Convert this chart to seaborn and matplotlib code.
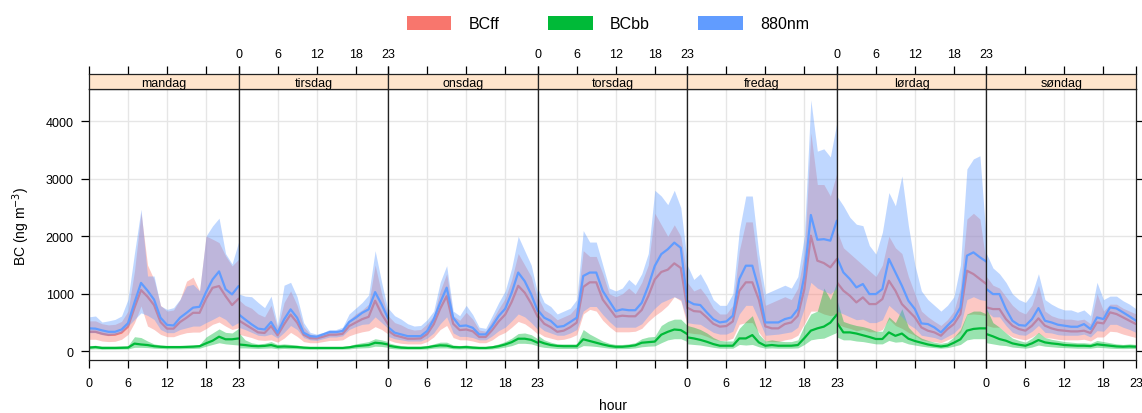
import numpy as np
import pandas as pd
import seaborn as sns
import matplotlib
matplotlib.use("Agg")
import matplotlib.pyplot as plt
from matplotlib.patches import Patch

DAYS = ["mandag", "tirsdag", "onsdag", "torsdag", "fredag", "lørdag", "søndag"]
HOURS = list(range(24))
SPECIES = ["BCff", "BCbb", "880nm"]
COLOURS = ["#F8766D", "#00BA38", "#619CFF"]

# mean per day (rows) and hour (cols), ng m-3
BCFF_MEAN = [
    [340, 340, 307, 285, 290, 325, 430, 760, 1065, 950, 805, 510, 395, 395, 510, 585, 670, 670, 915, 1105, 1135, 960, 805, 915],
    [540, 470, 400, 330, 320, 440, 280, 470, 640, 500, 290, 230, 225, 255, 290, 290, 305, 440, 500, 560, 600, 880, 650, 470],
    [360, 280, 250, 220, 220, 225, 300, 470, 740, 960, 480, 370, 380, 350, 250, 250, 370, 520, 640, 860, 1140, 1020, 830, 600],
    [620, 480, 420, 340, 360, 420, 500, 1120, 1200, 1200, 900, 750, 600, 620, 610, 610, 720, 960, 1250, 1380, 1420, 1530, 1450, 750],
    [760, 700, 690, 590, 480, 430, 440, 520, 1050, 1200, 1200, 900, 434, 400, 400, 475, 503, 620, 1083, 2010, 1576, 1535, 1460, 1605],
    [1200, 1055, 967, 851, 938, 822, 822, 909, 1228, 1055, 822, 707, 591, 416, 359, 330, 272, 388, 474, 649, 1402, 1344, 1257, 1170],
    [764, 735, 735, 561, 446, 388, 359, 446, 574, 446, 400, 370, 359, 347, 347, 359, 319, 503, 486, 678, 649, 591, 532, 474],
]
BCFF_LO = [
    [210, 210, 180, 170, 175, 210, 295, 500, 790, 440, 380, 295, 255, 255, 295, 325, 335, 335, 395, 470, 510, 440, 380, 410],
    [300, 270, 240, 200, 190, 200, 160, 230, 330, 260, 170, 150, 150, 170, 190, 190, 200, 270, 310, 340, 360, 430, 380, 300],
    [200, 160, 140, 130, 130, 130, 170, 250, 380, 450, 240, 200, 200, 180, 150, 150, 200, 280, 330, 420, 520, 480, 400, 300],
    [330, 260, 230, 200, 210, 240, 290, 650, 730, 700, 540, 430, 340, 340, 340, 350, 400, 520, 620, 700, 800, 950, 880, 450],
    [330, 310, 300, 260, 210, 190, 190, 230, 470, 500, 500, 330, 180, 170, 170, 200, 220, 280, 480, 700, 700, 650, 620, 650],
    [480, 430, 400, 360, 380, 340, 340, 380, 560, 450, 400, 330, 280, 200, 180, 170, 150, 200, 250, 330, 640, 650, 640, 620],
    [450, 420, 420, 320, 250, 220, 200, 250, 320, 240, 230, 210, 200, 200, 200, 210, 180, 250, 250, 350, 340, 300, 270, 240],
]
BCFF_HI = [
    [530, 530, 480, 460, 470, 520, 700, 1400, 2410, 1500, 1250, 800, 700, 720, 900, 1220, 1290, 1050, 2005, 1950, 1890, 1660, 1485, 1600],
    [900, 800, 750, 650, 600, 800, 400, 850, 1050, 800, 430, 300, 280, 300, 340, 340, 370, 550, 650, 720, 820, 1500, 1000, 620],
    [620, 500, 460, 400, 370, 380, 480, 620, 1050, 1350, 620, 540, 680, 560, 370, 350, 540, 740, 920, 1250, 1700, 1500, 1300, 880],
    [950, 720, 650, 550, 600, 650, 780, 1750, 1650, 1650, 1350, 1000, 950, 1000, 1100, 1000, 1200, 1500, 2400, 2200, 2000, 2200, 2000, 1300],
    [1200, 1050, 1100, 950, 750, 650, 650, 800, 1750, 2250, 2250, 1400, 800, 850, 900, 950, 900, 1100, 1700, 3800, 2900, 2900, 2700, 3100],
    [2100, 1800, 1700, 1600, 1500, 1400, 1300, 1500, 2000, 1800, 1700, 1300, 1000, 700, 600, 520, 450, 550, 700, 1100, 2300, 2400, 2300, 1500],
    [1300, 1150, 1100, 950, 800, 700, 650, 800, 1150, 700, 620, 580, 560, 560, 540, 560, 480, 1000, 700, 820, 820, 750, 700, 650],
]

BCBB_MEAN = [
    [65, 75, 58, 60, 60, 62, 65, 135, 120, 110, 90, 80, 75, 75, 75, 78, 82, 90, 140, 185, 255, 210, 210, 225],
    [120, 110, 95, 90, 95, 110, 80, 85, 80, 75, 65, 60, 60, 60, 60, 60, 60, 70, 90, 100, 110, 150, 140, 120],
    [100, 80, 65, 60, 60, 60, 70, 90, 105, 100, 75, 70, 75, 65, 60, 60, 70, 90, 120, 160, 220, 220, 200, 150],
    [180, 140, 110, 95, 90, 90, 90, 210, 180, 150, 120, 95, 80, 80, 90, 105, 150, 160, 170, 290, 340, 380, 370, 300],
    [243, 225, 200, 167, 127, 98, 98, 98, 225, 225, 283, 156, 98, 110, 98, 98, 98, 110, 230, 360, 400, 430, 500, 640],
    [500, 330, 330, 310, 280, 250, 215, 215, 330, 270, 310, 220, 180, 150, 120, 100, 85, 100, 150, 210, 360, 390, 400, 400],
    [301, 261, 214, 185, 139, 116, 98, 139, 197, 156, 139, 127, 110, 104, 98, 98, 92, 122, 110, 98, 86, 81, 86, 81],
]
BCBB_LO = [
    [40, 45, 40, 38, 38, 40, 42, 70, 70, 65, 55, 50, 45, 45, 45, 48, 50, 55, 90, 120, 150, 130, 120, 110],
    [60, 60, 55, 50, 55, 60, 45, 50, 45, 45, 40, 38, 38, 38, 38, 38, 38, 42, 55, 60, 65, 90, 85, 70],
    [55, 45, 40, 38, 38, 38, 42, 55, 60, 60, 45, 42, 45, 40, 38, 38, 42, 55, 75, 100, 140, 140, 130, 95],
    [90, 70, 60, 50, 50, 50, 50, 100, 95, 85, 70, 55, 48, 48, 50, 60, 80, 90, 95, 150, 200, 220, 220, 170],
    [130, 120, 110, 90, 70, 55, 55, 55, 120, 110, 120, 80, 55, 60, 55, 55, 55, 60, 120, 200, 220, 230, 280, 330],
    [250, 200, 200, 180, 170, 150, 130, 130, 190, 160, 170, 130, 110, 90, 75, 65, 55, 65, 90, 120, 200, 220, 220, 220],
    [150, 130, 110, 100, 75, 65, 55, 75, 110, 90, 80, 70, 65, 60, 55, 55, 55, 70, 65, 55, 50, 48, 50, 48],
]
BCBB_HI = [
    [100, 105, 95, 90, 90, 95, 100, 255, 240, 180, 130, 110, 100, 100, 100, 105, 110, 120, 250, 320, 390, 330, 320, 400],
    [330, 200, 150, 130, 140, 170, 120, 130, 120, 110, 90, 85, 85, 85, 85, 85, 85, 100, 130, 150, 170, 220, 200, 170],
    [150, 120, 100, 90, 90, 90, 100, 130, 160, 160, 110, 100, 110, 95, 85, 85, 100, 130, 170, 230, 310, 320, 290, 220],
    [280, 200, 160, 130, 130, 130, 130, 380, 300, 240, 180, 140, 120, 120, 130, 150, 220, 250, 260, 450, 520, 560, 560, 450],
    [450, 420, 380, 320, 240, 190, 180, 180, 400, 520, 620, 300, 180, 200, 180, 170, 170, 200, 450, 650, 700, 1100, 900, 1200],
    [900, 520, 480, 450, 430, 400, 350, 350, 600, 500, 740, 420, 300, 230, 190, 160, 140, 160, 250, 380, 650, 700, 700, 650],
    [750, 500, 420, 320, 230, 190, 160, 230, 330, 240, 210, 190, 170, 160, 150, 150, 140, 190, 170, 150, 130, 120, 130, 120],
]

NM880_MEAN = [
    [400, 395, 365, 340, 340, 380, 490, 850, 1190, 1055, 900, 585, 460, 450, 585, 670, 760, 775, 1030, 1250, 1390, 1080, 990, 1135],
    [645, 555, 470, 395, 380, 510, 325, 555, 730, 585, 325, 265, 255, 295, 335, 335, 355, 510, 585, 670, 730, 1030, 815, 570],
    [420, 325, 295, 265, 265, 265, 355, 555, 845, 1107, 585, 440, 450, 410, 295, 295, 440, 615, 740, 1020, 1370, 1220, 990, 700],
    [720, 585, 530, 425, 440, 510, 585, 1310, 1370, 1370, 1050, 875, 700, 730, 715, 715, 845, 1135, 1485, 1690, 1775, 1890, 1800, 875],
    [880, 820, 805, 677, 561, 503, 520, 619, 1257, 1489, 1489, 1083, 503, 503, 503, 561, 590, 735, 1315, 2370, 1940, 1950, 1924, 2272],
    [1635, 1373, 1257, 1112, 1170, 996, 996, 1083, 1605, 1373, 1141, 880, 735, 486, 474, 416, 330, 446, 561, 764, 1663, 1721, 1635, 1559],
    [1083, 996, 996, 735, 532, 457, 446, 561, 752, 532, 503, 463, 446, 428, 428, 474, 388, 590, 561, 764, 746, 678, 608, 532],
]
NM880_LO = [
    [325, 325, 290, 280, 295, 335, 440, 555, 670, 625, 555, 380, 325, 325, 380, 410, 440, 440, 500, 555, 615, 555, 440, 500],
    [420, 380, 330, 280, 270, 300, 230, 330, 450, 380, 240, 200, 190, 220, 250, 250, 270, 380, 430, 470, 480, 600, 500, 400],
    [260, 220, 200, 180, 180, 180, 230, 320, 480, 600, 320, 260, 260, 240, 200, 200, 270, 360, 420, 530, 650, 600, 500, 380],
    [450, 360, 320, 280, 280, 320, 380, 700, 780, 780, 640, 520, 420, 420, 420, 420, 480, 620, 750, 850, 900, 950, 900, 520],
    [500, 480, 470, 400, 330, 300, 300, 350, 650, 800, 800, 550, 280, 290, 300, 320, 340, 420, 750, 1200, 1100, 1050, 1000, 1100],
    [700, 650, 600, 550, 560, 500, 500, 550, 800, 700, 600, 470, 400, 280, 260, 240, 200, 260, 320, 430, 900, 950, 900, 880],
    [700, 600, 600, 450, 330, 290, 280, 350, 450, 330, 320, 290, 280, 280, 280, 300, 250, 360, 350, 470, 470, 420, 380, 330],
]
NM880_HI = [
    [600, 615, 510, 530, 555, 615, 905, 1715, 2470, 1310, 1310, 790, 730, 760, 905, 1135, 1165, 1050, 2005, 2180, 2315, 1700, 1520, 1900],
    [1000, 960, 950, 850, 760, 960, 450, 1150, 1200, 950, 500, 330, 300, 330, 380, 380, 420, 650, 750, 850, 980, 1750, 1200, 700],
    [750, 620, 560, 480, 440, 450, 550, 700, 1200, 1490, 700, 620, 800, 640, 420, 400, 620, 850, 1050, 1450, 2000, 1750, 1500, 1000],
    [1100, 850, 780, 650, 700, 750, 900, 2100, 1900, 1900, 1500, 1100, 1050, 1100, 1250, 1150, 1350, 1700, 2800, 2700, 2550, 2800, 2500, 1550],
    [1500, 1250, 1350, 1150, 900, 800, 800, 1000, 2100, 2700, 2700, 1700, 1000, 1050, 1100, 1150, 1100, 1300, 2000, 4370, 3480, 3520, 3380, 3980],
    [2700, 2530, 2330, 2210, 2185, 1840, 1690, 2070, 2760, 2530, 3050, 2185, 1500, 1050, 900, 800, 700, 800, 950, 1500, 3170, 3345, 3400, 1900],
    [1700, 1450, 1350, 1200, 1000, 900, 850, 1000, 1350, 900, 820, 760, 720, 720, 680, 720, 620, 1200, 900, 960, 960, 880, 820, 740],
]


def build_frame():
    rows = []
    tables = [(BCFF_MEAN, BCFF_LO, BCFF_HI), (BCBB_MEAN, BCBB_LO, BCBB_HI), (NM880_MEAN, NM880_LO, NM880_HI)]
    for sp, (mean, lo, hi) in zip(SPECIES, tables):
        for d, day in enumerate(DAYS):
            for h in HOURS:
                rows.append({"species": sp, "day": day, "hour": h,
                             "mean": mean[d][h], "lo": lo[d][h], "hi": hi[d][h]})
    return pd.DataFrame(rows)


def main():
    df = build_frame()

    sns.set_style("white")
    plt.rcParams["font.family"] = ["Liberation Sans", "DejaVu Sans"]
    plt.rcParams["text.color"] = "black"
    plt.rcParams["xtick.color"] = "black"
    plt.rcParams["ytick.color"] = "black"

    W, H = 1142, 414
    fig = plt.figure(figsize=(W / 100, H / 100), dpi=100)

    left, right = 89, 1136
    top, strip_top, bottom = 90, 75, 361
    pw = (right - left) / 7

    for i, day in enumerate(DAYS):
        x0 = left + i * pw
        ax = fig.add_axes([x0 / W, 1 - bottom / H, pw / W, (bottom - top) / H])
        sax = fig.add_axes([x0 / W, 1 - top / H, pw / W, (top - strip_top) / H])

        sub = df[df["day"] == day]
        for k, (sp, col) in enumerate(zip(SPECIES, COLOURS)):
            s = sub[sub["species"] == sp]
            ax.fill_between(s["hour"], s["lo"], s["hi"], color=col, alpha=0.4,
                            lw=0, zorder=2 + 2 * k)
            sns.lineplot(data=s, x="hour", y="mean", color=col, lw=1.6, ax=ax,
                         zorder=3 + 2 * k, legend=False)

        ax.set_xlim(0, 23)
        ax.set_ylim(-150, 4560)
        ax.set_xticks([0, 6, 12, 18, 23])
        ax.set_yticks([0, 1000, 2000, 3000, 4000])
        ax.grid(True, color="#e6e6e6", lw=1, zorder=0)
        ax.set_xlabel("")
        ax.set_ylabel("")
        for sp in ax.spines.values():
            sp.set_color("#222222")
            sp.set_linewidth(0.9)
            sp.set_zorder(10)
        ax.tick_params(axis="x", direction="out", length=6, width=0.9, pad=6,
                       labelsize=9, bottom=True, labelbottom=(i % 2 == 0))
        ax.tick_params(axis="y", direction="out", length=6, width=0.9, pad=5,
                       labelsize=9, left=(i == 0), labelleft=(i == 0),
                       right=(i == 6), labelright=False)

        sax.set_facecolor("#FFE5CC")
        sax.set_xlim(0, 23)
        sax.set_ylim(0, 1)
        sax.set_xticks([0, 6, 12, 18, 23])
        sax.set_yticks([])
        sax.tick_params(axis="x", direction="out", length=6, width=0.9, pad=4,
                        labelsize=9, top=True, bottom=False,
                        labeltop=(i % 2 == 1), labelbottom=False)
        for sp in sax.spines.values():
            sp.set_color("#222222")
            sp.set_linewidth(0.9)
        sax.text(11.5, 0.4, day, ha="center", va="center", fontsize=9)

    fig.text(21 / W, 1 - 226 / H, "BC (ng m$^{-3}$)", rotation=90,
             ha="center", va="center", fontsize=10)
    fig.text((left + right) / 2 / W, 1 - 406 / H, "hour", ha="center",
             va="center", fontsize=10)

    handles = [Patch(facecolor=c, edgecolor="none") for c in COLOURS]
    fig.legend(handles, SPECIES, loc="center", ncol=3,
               bbox_to_anchor=(608 / W, 1 - 24.5 / H), frameon=False,
               fontsize=11.5, handlelength=2.8, handleheight=1.05,
               handletextpad=1.1, columnspacing=3.0)

    fig.savefig("out.png", dpi=100)


if __name__ == "__main__":
    main()
